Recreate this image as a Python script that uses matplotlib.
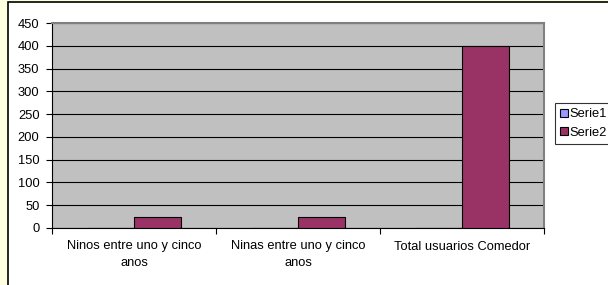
import matplotlib.pyplot as plt
from matplotlib.patches import Rectangle
from matplotlib.ticker import FixedLocator

# Chart data
categories = [
    "Ninos entre uno y cinco\nanos",
    "Ninas entre uno y cinco\nanos",
    "Total usuarios Comedor",
]
serie1 = [0, 0, 0]
serie2 = [24, 24, 400]
series_names = ["Serie1", "Serie2"]

plt.rcParams["font.family"] = ["Liberation Sans", "DejaVu Sans"]
plt.rcParams["font.size"] = 9.3

fig = plt.figure(figsize=(6.08, 2.85), dpi=100)
fig.patch.set_facecolor("#FFFFE0")

# white chart frame with black border
frame = Rectangle((8 / 608, -0.05), 1.2, 1.05 - 2 / 285, transform=fig.transFigure,
                  facecolor="white", edgecolor="black", linewidth=1.2, zorder=-10)
fig.patches.append(frame)

ax = fig.add_axes([52 / 608, 1 - 228 / 285, 492 / 608, 205 / 285])
ax.set_zorder(5)
ax.set_facecolor("#C0C0C0")

x = list(range(len(categories)))
w = 1 / 3.5
b1 = ax.bar([i - w / 2 for i in x], serie1, width=w, color="#9999FF",
            edgecolor="black", linewidth=0.8, label=series_names[0], zorder=3)
b2 = ax.bar([i + w / 2 for i in x], serie2, width=w, color="#993366",
            edgecolor="black", linewidth=0.8, label=series_names[1], zorder=3)

ax.set_xlim(-0.5, len(categories) - 0.5)
ax.set_ylim(0, 450)
ax.set_yticks(range(0, 451, 50))
ax.yaxis.grid(True, color="black", linewidth=0.8, zorder=1)
ax.set_axisbelow(True)

ax.set_xticks(x)
ax.set_xticklabels(categories, multialignment="center", linespacing=1.55)
ax.xaxis.set_minor_locator(FixedLocator([i - 0.5 for i in range(len(categories) + 1)]))
ax.tick_params(axis="x", which="major", length=0, pad=9)
ax.tick_params(axis="x", which="minor", length=4, width=0.8, direction="out")
ax.tick_params(axis="y", length=4, width=0.8, direction="out", pad=5)

for side in ["top", "right"]:
    ax.spines[side].set_color("#808080")
    ax.spines[side].set_linewidth(1.5)
for side in ["left", "bottom"]:
    ax.spines[side].set_color("black")
    ax.spines[side].set_linewidth(0.8)

leg = fig.legend(handles=[b1, b2], loc="upper left",
                 bbox_to_anchor=(555 / 608, 1 - 103 / 285),
                 frameon=True, fancybox=False, shadow=False, fontsize=9.3,
                 handlelength=0.6, handleheight=0.6, handletextpad=0.15,
                 borderpad=0.4, labelspacing=0.5, borderaxespad=0)
leg.get_frame().set_edgecolor("black")
leg.get_frame().set_linewidth(0.8)
leg.set_zorder(6)

fig.savefig("out.png", dpi=100)
